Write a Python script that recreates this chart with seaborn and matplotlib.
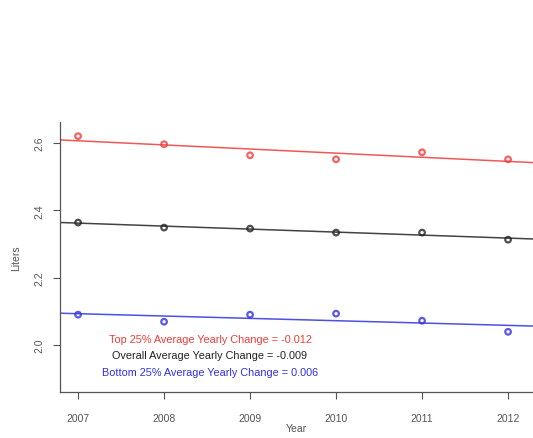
import numpy as np
import pandas as pd
import matplotlib
matplotlib.use("Agg")
import matplotlib.pyplot as plt
import seaborn as sns

years = [2007, 2008, 2009, 2010, 2011, 2012]
top25 = [2.621, 2.597, 2.564, 2.552, 2.573, 2.552]
overall = [2.364, 2.349, 2.346, 2.334, 2.334, 2.313]
bottom25 = [2.090, 2.069, 2.090, 2.093, 2.072, 2.039]

series_colors = {"top": "#f03a3a", "overall": "#222222", "bottom": "#3030e0"}
legend_lines = [
    ("Top 25% Average Yearly Change = -0.012", series_colors["top"]),
    ("Overall Average Yearly Change = -0.009", series_colors["overall"]),
    ("Bottom 25% Average Yearly Change = 0.006", series_colors["bottom"]),
]

df = pd.DataFrame({"year": years, "top": top25, "overall": overall, "bottom": bottom25})

sns.set_style("white")
plt.rcParams['font.family'] = ['Liberation Sans', 'DejaVu Sans']

fig = plt.figure(figsize=(5.33, 4.39), dpi=100)
ax = fig.add_axes([0.1126, 0.1048, 0.8874, 0.615])
ax.set_xlim(2006.79, 2012.29)
ax.set_ylim(1.86, 2.663)

for key in ["top", "overall", "bottom"]:
    c = series_colors[key]
    sns.regplot(data=df, x="year", y=key, ax=ax, ci=None, truncate=False,
                scatter_kws=dict(s=16, facecolors="none", edgecolors=c, linewidths=1.6),
                line_kws=dict(color=c, linewidth=1.1, alpha=0.85), marker="o")

ax.set_xlim(2006.79, 2012.29)
ax.set_ylim(1.86, 2.663)

ax.set_xticks(years)
ax.set_xticklabels([str(y) for y in years])
ax.set_yticks([2.0, 2.2, 2.4, 2.6])
ax.set_yticklabels(["2.0", "2.2", "2.4", "2.6"], rotation=90, va="center")
ax.tick_params(axis="both", direction="out", length=5, width=0.8, color="#555555",
               labelsize=7.5, labelcolor="#555555", pad=6, left=True, bottom=True)
ax.tick_params(axis="x", pad=10)

for side in ["top", "right"]:
    ax.spines[side].set_visible(False)
for side in ["left", "bottom"]:
    ax.spines[side].set_color("#555555")
    ax.spines[side].set_linewidth(0.9)

ax.set_xlabel("Year", fontsize=7.5, color="#555555", labelpad=0)
ax.set_ylabel("Liters", fontsize=7.5, color="#555555", labelpad=10)

for i, (txt, c) in enumerate(legend_lines):
    fig.text(210 / 533, 1 - (340 + i * 16.5) / 439, txt, color=c, fontsize=7.8,
             ha="center", va="center")

fig.savefig("out.png", dpi=100)
